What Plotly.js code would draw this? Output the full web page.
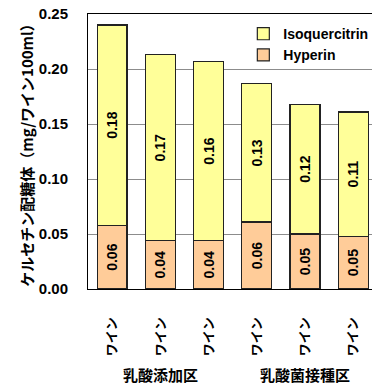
<!DOCTYPE html>
<html>
<head>
<meta charset="utf-8">
<script src="https://cdn.plot.ly/plotly-3.0.1.min.js"></script>
<style>html,body{margin:0;padding:0;background:#fff;}</style>
</head>
<body>
<div id="chart" style="width:374px;height:385px;"></div>
<script>
const categories = ["ワイン", "ワイン", "ワイン", "ワイン", "ワイン", "ワイン"];
const groups = ["乳酸添加区", "乳酸菌接種区"];
const hyperin = [0.058, 0.044, 0.044, 0.061, 0.050, 0.048];
const isoquercitrin = [0.182, 0.169, 0.163, 0.1255, 0.118, 0.113];
const seriesNames = ["Hyperin", "Isoquercitrin"];
const yTitle = "ケルセチン配糖体（mg/ワイン100ml）";

const FONT = "'Liberation Sans', Arial, 'Noto Sans CJK JP', sans-serif";
const xs = categories.map((_, i) => i);

const common = {
  type: "bar",
  x: xs,
  width: 0.62,
  texttemplate: "%{y:.2f}",
  textposition: "inside",
  insidetextanchor: "middle",
  textangle: -90,
  constraintext: "none",
  textfont: {family: FONT, size: 14, color: "#000", weight: "bold"},
  hoverinfo: "none"
};

const traces = [
  Object.assign({}, common, {
    name: seriesNames[0], y: hyperin,
    marker: {color: "#FFCC99", line: {color: "#222", width: 1.2}}
  }),
  Object.assign({}, common, {
    name: seriesNames[1], y: isoquercitrin,
    marker: {color: "#FFFF99", line: {color: "#222", width: 1.2}}
  })
];

const layout = {
  width: 374, height: 385,
  margin: {l: 88, r: 1, t: 14, b: 96},
  barmode: "stack",
  paper_bgcolor: "#fff",
  plot_bgcolor: "#fff",
  font: {family: FONT, size: 14, color: "#000", weight: "bold"},
  showlegend: true,
  legend: {
    x: 0.545, y: 0.985, xanchor: "left", yanchor: "top",
    traceorder: "reversed",
    bgcolor: "rgba(0,0,0,0)",
    font: {family: FONT, size: 14, color: "#000", weight: "bold"},
    tracegroupgap: 0
  },
  xaxis: {
    range: [-0.5, 5.39],
    tickmode: "array",
    tickvals: xs,
    ticktext: categories,
    tickangle: -90,
    ticks: "outside", ticklen: 22, tickcolor: "rgba(0,0,0,0)",
    tickfont: {family: "'Noto Sans CJK JP', sans-serif", size: 13, color: "#000", weight: "bold"},
    showline: true, linecolor: "#000", linewidth: 1, mirror: true,
    showgrid: false, zeroline: false, fixedrange: true
  },
  yaxis: {
    range: [0, 0.25],
    dtick: 0.05, tick0: 0,
    tickformat: ".2f",
    ticks: "outside", ticklen: 16, tickcolor: "rgba(0,0,0,0)",
    tickfont: {family: FONT, size: 15, color: "#000", weight: "bold"},
    showline: true, linecolor: "#000", linewidth: 1,
    showgrid: true, gridcolor: "#8c8c8c", gridwidth: 1,
    zeroline: false, fixedrange: true,
    title: {text: yTitle, font: {family: "'Noto Sans CJK JP', sans-serif", size: 15, color: "#000", weight: "bold"}}
  },
  annotations: [
    {text: groups[0], xref: "x", yref: "paper", x: (xs[0] + xs[2]) / 2, y: -0.31, showarrow: false,
     xanchor: "center", yanchor: "middle",
     font: {family: "'Noto Sans CJK JP', sans-serif", size: 15, color: "#000", weight: "bold"}},
    {text: groups[1], xref: "x", yref: "paper", x: (xs[3] + xs[5]) / 2, y: -0.31, showarrow: false,
     xanchor: "center", yanchor: "middle",
     font: {family: "'Noto Sans CJK JP', sans-serif", size: 15, color: "#000", weight: "bold"}}
  ]
};

Plotly.newPlot("chart", traces, layout, {displayModeBar: false, staticPlot: true});
</script>
</body>
</html>
